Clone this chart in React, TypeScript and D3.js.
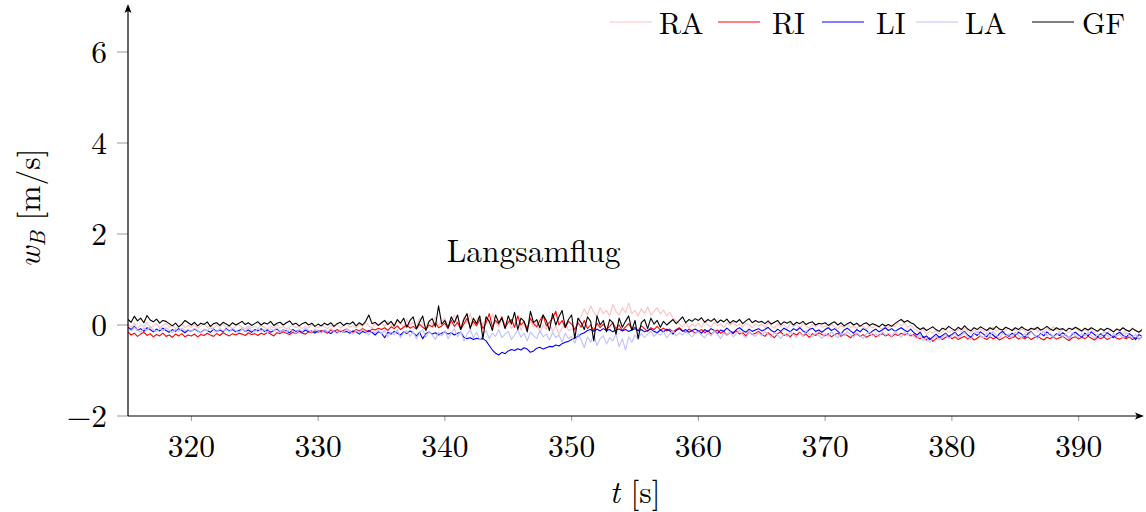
import React from "react";
import * as d3 from "d3";

const T0 = 315;
const DT = 0.25;

const GF = [
  0.12,0.06,0.19,0.09,0.15,0.05,0.21,0.11,0.07,0.13,0.04,0.1,0.08,0.03,-0.02,0.04,-0.04,0.02,0.1,0.05,
  0.0,0.06,-0.02,0.04,0.01,0.07,-0.03,0.03,0.05,-0.01,0.06,0.02,-0.02,0.05,0.0,0.04,0.08,0.01,0.05,-0.01,
  0.03,0.07,0.0,0.05,0.02,0.08,-0.01,0.04,0.06,0.0,0.05,0.09,0.01,0.04,-0.02,0.03,0.06,0.0,0.04,-0.03,
  0.02,-0.02,0.04,0.0,0.05,-0.03,0.03,0.06,-0.01,0.04,0.02,0.07,-0.02,0.05,0.0,0.08,0.22,0.03,0.06,-0.01,
  0.05,0.1,0.01,0.08,-0.02,0.12,0.04,0.15,-0.05,0.1,0.18,-0.08,0.06,0.2,-0.12,0.08,0.14,-0.04,0.42,0.02,
  0.1,-0.06,0.18,0.05,0.22,-0.1,0.12,0.25,-0.08,0.15,0.03,0.2,-0.3,0.18,0.08,-0.12,0.22,0.05,0.15,-0.08,
  0.2,0.02,0.28,-0.1,0.15,0.08,-0.15,0.3,0.05,0.12,-0.06,0.22,0.1,-0.12,0.25,0.0,0.18,0.32,-0.05,0.12,
  0.22,-0.3,0.15,0.05,-0.1,0.18,0.08,-0.35,0.2,0.0,0.1,-0.15,0.12,0.05,-0.2,0.15,-0.05,0.08,0.2,-0.12,
  0.1,-0.3,0.05,0.12,-0.08,0.15,0.02,0.1,-0.05,0.08,0.0,0.06,0.12,0.03,0.1,0.18,0.05,0.12,0.08,0.14,
  0.1,0.16,0.06,0.12,0.08,0.14,0.05,0.11,0.07,0.13,0.04,0.1,0.06,0.12,0.03,0.09,0.14,0.05,0.1,0.06,
  0.08,0.03,0.09,0.02,0.06,0.1,0.01,0.07,0.04,0.08,0.0,0.06,0.03,0.08,0.01,0.05,0.07,0.0,0.04,0.02,
  0.05,-0.01,0.04,0.07,0.0,0.05,-0.02,0.03,0.06,0.0,0.04,-0.03,0.02,0.05,-0.01,0.03,0.0,-0.04,0.02,-0.02,
  0.01,-0.03,0.03,0.08,0.12,0.06,0.1,0.05,0.02,-0.05,-0.1,-0.06,-0.12,-0.08,-0.04,-0.1,-0.14,-0.07,-0.1,-0.03,
  -0.08,-0.12,-0.05,-0.1,-0.02,-0.09,-0.13,-0.06,-0.1,-0.04,-0.08,-0.12,-0.06,-0.1,-0.03,-0.09,-0.11,-0.05,-0.08,-0.12,
  -0.06,-0.1,-0.04,-0.09,-0.12,-0.07,-0.1,-0.05,-0.11,-0.08,-0.03,-0.09,-0.12,-0.06,-0.1,-0.08,-0.13,-0.07,-0.1,-0.05,
  -0.09,-0.13,-0.07,-0.11,-0.06,-0.1,-0.14,-0.08,-0.12,-0.07,-0.1,-0.15,-0.09,-0.12,-0.06,-0.11,-0.14,-0.08,-0.12,-0.16,
  -0.1,
];

const RI = [
  -0.15,-0.22,-0.18,-0.25,-0.2,-0.16,-0.23,-0.19,-0.26,-0.21,-0.24,-0.18,-0.25,-0.22,-0.27,-0.2,-0.24,-0.19,-0.26,-0.22,
  -0.24,-0.2,-0.26,-0.21,-0.23,-0.18,-0.22,-0.25,-0.19,-0.23,-0.17,-0.21,-0.24,-0.19,-0.22,-0.18,-0.2,-0.23,-0.17,-0.21,
  -0.19,-0.23,-0.18,-0.21,-0.16,-0.2,-0.24,-0.17,-0.19,-0.15,-0.18,-0.21,-0.16,-0.19,-0.14,-0.18,-0.2,-0.15,-0.17,-0.13,
  -0.16,-0.12,-0.15,-0.18,-0.11,-0.14,-0.1,-0.15,-0.12,-0.09,-0.13,-0.16,-0.1,-0.13,-0.08,-0.12,-0.15,-0.09,-0.11,-0.07,
  -0.1,-0.06,-0.12,-0.04,-0.08,-0.02,-0.1,-0.05,0.0,-0.07,-0.03,-0.09,0.02,-0.05,-0.1,0.0,-0.04,0.05,-0.06,-0.02,
  0.04,-0.08,0.1,-0.03,0.06,-0.1,0.02,0.15,-0.05,0.08,-0.02,0.12,-0.08,0.05,0.25,-0.04,0.1,0.02,0.18,-0.06,
  0.06,0.12,-0.05,0.2,0.0,0.08,-0.08,0.15,0.03,-0.04,0.1,0.22,-0.02,0.06,0.15,0.3,0.0,0.1,-0.06,0.08,
  0.02,-0.1,0.05,-0.05,0.1,-0.08,0.0,-0.12,0.04,-0.06,0.02,-0.1,-0.03,0.05,-0.08,0.0,-0.12,-0.04,0.03,-0.09,
  -0.05,-0.12,-0.02,-0.08,-0.14,-0.06,-0.1,-0.03,-0.11,-0.07,-0.13,-0.09,-0.15,-0.1,-0.06,-0.12,-0.16,-0.09,-0.13,-0.18,
  -0.14,-0.1,-0.17,-0.12,-0.2,-0.15,-0.11,-0.18,-0.14,-0.22,-0.16,-0.19,-0.13,-0.2,-0.17,-0.24,-0.15,-0.21,-0.18,-0.14,
  -0.2,-0.25,-0.17,-0.22,-0.28,-0.19,-0.15,-0.23,-0.2,-0.26,-0.18,-0.22,-0.16,-0.24,-0.2,-0.27,-0.19,-0.23,-0.17,-0.21,
  -0.24,-0.19,-0.26,-0.21,-0.18,-0.25,-0.2,-0.23,-0.28,-0.22,-0.19,-0.25,-0.21,-0.27,-0.23,-0.2,-0.26,-0.22,-0.19,-0.24,
  -0.21,-0.26,-0.2,-0.23,-0.18,-0.22,-0.19,-0.24,-0.21,-0.27,-0.3,-0.25,-0.33,-0.28,-0.36,-0.3,-0.26,-0.32,-0.27,-0.24,
  -0.3,-0.26,-0.32,-0.28,-0.25,-0.31,-0.27,-0.33,-0.29,-0.24,-0.28,-0.32,-0.26,-0.3,-0.27,-0.33,-0.29,-0.25,-0.3,-0.28,
  -0.25,-0.31,-0.27,-0.3,-0.26,-0.32,-0.28,-0.24,-0.29,-0.33,-0.27,-0.3,-0.26,-0.31,-0.28,-0.25,-0.3,-0.34,-0.28,-0.26,
  -0.31,-0.27,-0.3,-0.25,-0.29,-0.33,-0.27,-0.3,-0.26,-0.32,-0.28,-0.24,-0.29,-0.31,-0.27,-0.3,-0.26,-0.32,-0.28,-0.3,
  -0.27,
];

const LI = [
  -0.05,-0.1,-0.03,-0.12,-0.08,-0.14,-0.06,-0.1,-0.15,-0.09,-0.13,-0.07,-0.12,-0.16,-0.1,-0.14,-0.08,-0.12,-0.17,-0.11,
  -0.14,-0.09,-0.13,-0.17,-0.1,-0.12,-0.16,-0.09,-0.14,-0.11,-0.15,-0.08,-0.13,-0.1,-0.15,-0.12,-0.09,-0.14,-0.11,-0.16,
  -0.1,-0.13,-0.08,-0.14,-0.11,-0.16,-0.12,-0.09,-0.15,-0.11,-0.13,-0.17,-0.1,-0.14,-0.12,-0.16,-0.11,-0.15,-0.13,-0.18,
  -0.12,-0.16,-0.11,-0.15,-0.19,-0.13,-0.17,-0.12,-0.16,-0.14,-0.18,-0.13,-0.15,-0.2,-0.14,-0.17,-0.12,-0.16,-0.22,-0.15,
  -0.18,-0.28,-0.16,-0.2,-0.14,-0.18,-0.22,-0.15,-0.19,-0.13,-0.17,-0.24,-0.16,-0.3,-0.19,-0.15,-0.2,-0.17,-0.22,-0.18,
  -0.15,-0.2,-0.17,-0.22,-0.18,-0.16,-0.27,-0.3,-0.28,-0.32,-0.29,-0.31,-0.3,-0.35,-0.45,-0.55,-0.62,-0.66,-0.6,-0.63,
  -0.57,-0.54,-0.56,-0.52,-0.55,-0.5,-0.53,-0.6,-0.57,-0.51,-0.49,-0.53,-0.5,-0.47,-0.48,-0.44,-0.46,-0.41,-0.38,-0.36,
  -0.32,-0.28,-0.25,-0.2,-0.17,-0.12,-0.1,-0.14,-0.09,-0.13,-0.08,-0.12,-0.1,-0.15,-0.11,-0.09,-0.13,-0.1,-0.14,-0.11,
  -0.08,-0.13,-0.1,-0.15,-0.12,-0.09,-0.14,-0.17,-0.11,-0.15,-0.09,-0.13,-0.2,-0.12,-0.08,-0.14,-0.1,-0.16,-0.12,-0.09,
  -0.13,-0.18,-0.1,-0.15,-0.08,-0.12,-0.19,-0.11,-0.14,-0.07,-0.13,-0.17,-0.1,-0.06,-0.12,-0.16,-0.09,-0.14,-0.11,-0.08,
  -0.13,-0.1,-0.05,-0.12,-0.16,-0.09,-0.14,-0.07,-0.11,-0.15,-0.08,-0.12,-0.06,-0.13,-0.17,-0.1,-0.07,-0.14,-0.11,-0.16,
  -0.1,-0.06,-0.12,-0.08,-0.14,-0.2,-0.11,-0.07,-0.13,-0.18,-0.1,-0.15,-0.08,-0.12,-0.19,-0.13,-0.09,-0.15,-0.11,-0.06,
  -0.12,-0.08,-0.14,-0.1,-0.06,-0.11,-0.15,-0.09,-0.17,-0.22,-0.16,-0.28,-0.24,-0.32,-0.26,-0.2,-0.27,-0.23,-0.18,-0.25,
  -0.21,-0.16,-0.24,-0.19,-0.14,-0.22,-0.27,-0.18,-0.23,-0.15,-0.2,-0.26,-0.17,-0.22,-0.28,-0.19,-0.14,-0.21,-0.25,-0.18,
  -0.23,-0.16,-0.2,-0.27,-0.19,-0.14,-0.22,-0.28,-0.18,-0.24,-0.15,-0.21,-0.26,-0.19,-0.23,-0.17,-0.22,-0.29,-0.2,-0.16,
  -0.22,-0.27,-0.18,-0.24,-0.15,-0.21,-0.26,-0.19,-0.25,-0.17,-0.22,-0.28,-0.2,-0.16,-0.23,-0.27,-0.19,-0.24,-0.32,-0.21,
  -0.25,
];

const LA = [
  -0.08,-0.13,-0.05,-0.11,-0.16,-0.07,-0.12,-0.04,-0.1,-0.15,-0.08,-0.13,-0.06,-0.11,-0.17,-0.09,-0.14,-0.07,-0.12,-0.1,
  -0.14,-0.07,-0.12,-0.18,-0.09,-0.13,-0.06,-0.11,-0.16,-0.08,-0.13,-0.1,-0.15,-0.07,-0.12,-0.17,-0.09,-0.14,-0.06,-0.11,
  -0.15,-0.08,-0.13,-0.1,-0.17,-0.09,-0.12,-0.06,-0.14,-0.11,-0.16,-0.08,-0.13,-0.18,-0.1,-0.14,-0.07,-0.12,-0.16,-0.09,
  -0.13,-0.18,-0.1,-0.15,-0.08,-0.14,-0.19,-0.11,-0.16,-0.09,-0.13,-0.2,-0.12,-0.17,-0.1,-0.15,-0.22,-0.13,-0.18,-0.11,
  -0.2,-0.12,-0.26,-0.15,-0.22,-0.1,-0.28,-0.17,-0.12,-0.25,-0.15,-0.3,-0.18,-0.1,-0.27,-0.14,-0.22,-0.32,-0.16,-0.24,
  -0.12,-0.3,-0.18,-0.08,-0.26,-0.14,-0.35,-0.2,-0.1,-0.28,-0.16,-0.32,-0.22,-0.12,-0.3,-0.18,-0.25,-0.1,-0.28,-0.2,
  -0.14,-0.32,-0.22,-0.1,-0.27,-0.18,-0.35,-0.15,-0.24,-0.3,-0.12,-0.26,-0.2,-0.33,-0.16,-0.28,-0.22,-0.38,-0.18,-0.3,
  -0.25,-0.4,-0.2,-0.32,-0.5,-0.26,-0.38,-0.22,-0.45,-0.3,-0.24,-0.42,-0.28,-0.35,-0.2,-0.48,-0.3,-0.55,-0.26,-0.38,
  -0.22,-0.32,-0.18,-0.28,-0.2,-0.14,-0.25,-0.18,-0.22,-0.15,-0.28,-0.2,-0.12,-0.24,-0.17,-0.22,-0.14,-0.2,-0.26,-0.18,
  -0.15,-0.22,-0.28,-0.18,-0.24,-0.13,-0.2,-0.3,-0.17,-0.23,-0.15,-0.26,-0.19,-0.12,-0.22,-0.28,-0.16,-0.21,-0.25,-0.18,
  -0.24,-0.14,-0.2,-0.27,-0.17,-0.22,-0.3,-0.19,-0.25,-0.15,-0.21,-0.28,-0.18,-0.24,-0.13,-0.2,-0.26,-0.17,-0.23,-0.3,
  -0.19,-0.25,-0.15,-0.22,-0.28,-0.18,-0.24,-0.14,-0.21,-0.27,-0.17,-0.23,-0.3,-0.2,-0.16,-0.24,-0.19,-0.26,-0.15,-0.22,
  -0.18,-0.25,-0.14,-0.2,-0.27,-0.16,-0.22,-0.19,-0.26,-0.3,-0.22,-0.35,-0.28,-0.38,-0.3,-0.24,-0.33,-0.27,-0.2,-0.3,
  -0.24,-0.18,-0.29,-0.22,-0.16,-0.26,-0.32,-0.2,-0.15,-0.24,-0.28,-0.19,-0.25,-0.14,-0.22,-0.3,-0.18,-0.24,-0.2,-0.27,
  -0.16,-0.23,-0.28,-0.19,-0.25,-0.15,-0.21,-0.3,-0.2,-0.14,-0.24,-0.18,-0.27,-0.22,-0.16,-0.25,-0.2,-0.29,-0.17,-0.23,
  -0.28,-0.19,-0.24,-0.16,-0.22,-0.3,-0.2,-0.26,-0.15,-0.23,-0.29,-0.18,-0.25,-0.21,-0.3,-0.17,-0.24,-0.28,-0.2,-0.33,
  -0.25,
];

const RA = [
  0.02,-0.05,0.04,-0.08,0.0,-0.04,0.06,-0.06,-0.02,0.03,-0.07,-0.01,0.04,-0.05,0.0,-0.08,-0.03,0.02,-0.06,-0.01,
  -0.05,0.01,-0.07,-0.02,0.03,-0.06,-0.01,-0.08,0.0,-0.04,0.02,-0.06,-0.02,-0.09,-0.03,0.01,-0.05,-0.08,-0.02,-0.06,
  -0.03,-0.08,0.0,-0.05,-0.1,-0.02,-0.06,0.01,-0.07,-0.03,-0.09,-0.04,0.0,-0.06,-0.02,-0.08,-0.03,-0.07,0.01,-0.04,
  -0.06,0.0,-0.04,-0.08,-0.01,-0.05,0.02,-0.06,-0.02,0.03,-0.05,-0.01,-0.07,0.02,-0.03,0.05,-0.02,-0.06,0.03,-0.01,
  0.04,-0.03,0.08,0.0,-0.05,0.1,0.02,-0.04,0.12,0.0,0.06,-0.06,0.15,0.02,-0.03,0.1,0.0,0.18,-0.02,0.08,
  0.15,-0.04,0.1,0.22,0.02,-0.06,0.18,0.05,0.25,-0.02,0.12,0.2,0.0,0.16,0.05,0.24,0.08,-0.04,0.15,0.02,
  0.1,-0.08,0.05,0.18,-0.12,0.02,-0.15,0.1,-0.05,0.08,-0.18,0.0,-0.1,0.06,-0.14,-0.02,-0.2,-0.06,0.04,-0.12,
  -0.08,-0.14,0.05,0.2,0.35,0.22,0.42,0.28,0.18,0.38,0.25,0.32,0.2,0.45,0.3,0.22,0.38,0.27,0.48,0.25,
  0.32,0.2,0.36,0.26,0.4,0.22,0.3,0.38,0.24,0.33,0.2,0.28,0.15,0.1,0.02,-0.04,0.05,-0.06,0.02,-0.03,
  0.04,-0.05,0.08,0.0,-0.04,0.06,-0.02,0.03,-0.06,0.05,-0.01,0.07,-0.03,0.02,-0.05,0.04,0.0,-0.06,0.03,-0.02,
  0.02,-0.06,0.05,-0.02,-0.07,0.03,-0.04,0.01,-0.08,0.04,-0.03,0.0,-0.06,0.03,-0.02,-0.07,0.01,-0.04,0.02,-0.05,
  -0.02,-0.07,0.01,-0.04,-0.09,-0.01,-0.05,0.02,-0.06,-0.02,-0.08,0.0,-0.04,-0.09,-0.02,-0.06,0.01,-0.05,-0.08,-0.03,
  -0.06,0.0,-0.04,0.05,-0.02,0.04,-0.05,-0.01,-0.08,-0.12,-0.16,-0.1,-0.2,-0.14,-0.18,-0.12,-0.2,-0.15,-0.1,-0.16,
  -0.12,-0.18,-0.1,-0.15,-0.08,-0.14,-0.19,-0.11,-0.16,-0.09,-0.13,-0.18,-0.1,-0.05,-0.14,-0.09,-0.16,-0.12,-0.07,-0.13,
  -0.1,-0.15,-0.08,-0.13,-0.18,-0.1,-0.06,-0.14,-0.11,-0.16,-0.08,-0.12,-0.03,-0.1,-0.15,-0.09,-0.13,-0.17,-0.1,-0.06,
  -0.12,-0.16,-0.09,-0.14,-0.1,-0.17,-0.12,-0.07,-0.13,-0.18,-0.11,-0.15,-0.08,-0.13,-0.19,-0.1,-0.14,-0.06,-0.12,-0.16,
  -0.13,
];

const SERIES_NAMES = ["RA", "RI", "LI", "LA", "GF"];
const SERIES_COLORS = ["#ffbfbf", "#ff0000", "#0000ff", "#bfbfff", "#000000"];
const SERIES_DATA = [RA, RI, LI, LA, GF];

const X_TICKS = [320, 330, 340, 350, 360, 370, 380, 390];
const Y_TICKS = [-2, 0, 2, 4, 6];
const ANNOTATION = { t: 347.0, v: 1.38, text: "Langsamflug" };

const W = 1146;
const H = 512;
const FS = 31.5;
const FONT = "'Latin Modern Roman','CMU Serif','Liberation Serif','DejaVu Serif',serif";

export default function App() {
  const x = d3.scaleLinear().domain([315, 395]).range([128, 1142]);
  const y = d3.scaleLinear().domain([-2, 7]).range([416, 6.5]);
  const line = d3
    .line<number>()
    .x((_, i) => x(T0 + i * DT))
    .y((d) => y(d));

  const legendLineX = [610, 718, 822, 916, 1032];
  const legendTextX = [659, 772, 876, 965, 1082];

  return (
    <svg width={W} height={H} style={{ position: "absolute", left: 0, top: 0, fontFamily: FONT }}>
      <defs>
        <clipPath id="plotclip">
          <rect x={128} y={0} width={1015} height={416} />
        </clipPath>
      </defs>
      <g clipPath="url(#plotclip)">
        {SERIES_DATA.map((s, k) => (
          <path key={k} d={line(s) || ""} fill="none" stroke={SERIES_COLORS[k]} strokeWidth={1.1} strokeLinejoin="round" />
        ))}
      </g>
      {X_TICKS.map((t) => (
        <g key={t}>
          <line x1={x(t)} x2={x(t)} y1={416} y2={421} stroke="#999" strokeWidth={1} />
          <text x={x(t)} y={457} textAnchor="middle" fontSize={FS}>{t}</text>
        </g>
      ))}
      {Y_TICKS.map((v) => (
        <g key={v}>
          <line x1={117} x2={128} y1={y(v)} y2={y(v)} stroke="#999" strokeWidth={1} />
          <text x={107} y={y(v) + 10.5} textAnchor="end" fontSize={FS}>{v < 0 ? "\u2212" + Math.abs(v) : v}</text>
        </g>
      ))}
      <line x1={128} x2={128} y1={416} y2={8} stroke="#000" strokeWidth={1.2} />
      <path d="M128,4 L124.5,13 L128,11 L131.5,13 Z" fill="#000" />
      <line x1={128} x2={1140} y1={416} y2={416} stroke="#000" strokeWidth={1.2} />
      <path d="M1144,416 L1135,412.5 L1137,416 L1135,419.5 Z" fill="#000" />
      <text x={x(ANNOTATION.t)} y={y(ANNOTATION.v)} textAnchor="middle" fontSize={FS}>{ANNOTATION.text}</text>
      {SERIES_NAMES.map((n, k) => (
        <g key={n}>
          <line x1={legendLineX[k]} x2={legendLineX[k] + 42} y1={22} y2={22} stroke={SERIES_COLORS[k]} strokeWidth={1.2} />
          <text x={legendTextX[k]} y={34} fontSize={30}>{n}</text>
        </g>
      ))}
      <text x={635} y={503} textAnchor="middle" fontSize={FS}>
        <tspan fontStyle="italic">t</tspan>
        <tspan> [s]</tspan>
      </text>
      <text transform="translate(40,208) rotate(-90)" textAnchor="middle" fontSize={FS}>
        <tspan fontStyle="italic">w</tspan>
        <tspan fontStyle="italic" fontSize={22} dy={5}>B</tspan>
        <tspan dy={-5}> [m/s]</tspan>
      </text>
    </svg>
  );
}
